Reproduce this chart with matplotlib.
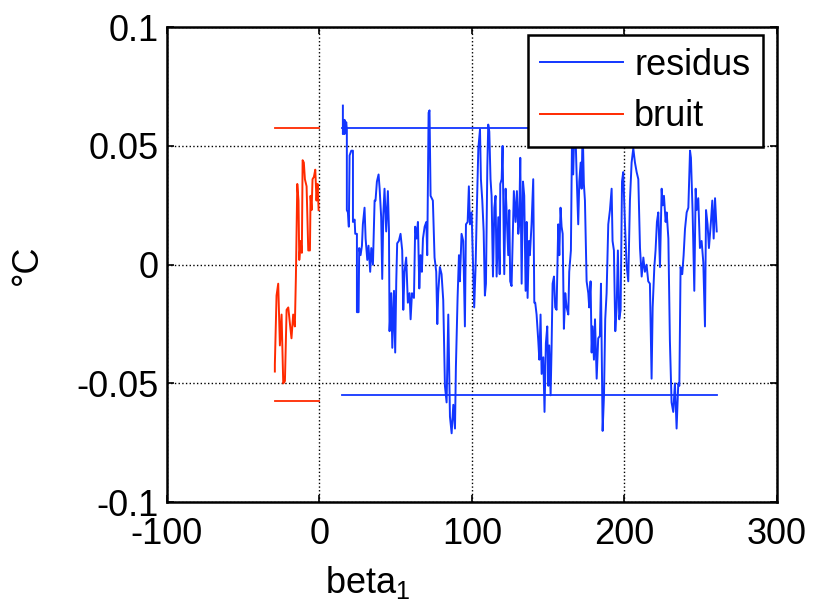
import matplotlib
matplotlib.use("Agg")
import matplotlib.pyplot as plt

# bruit (red) trace
bruit_x = [-29.2, -29.2, -28.1, -27.0, -25.9, -24.8, -23.7, -22.6, -21.5, -20.4,
           -19.3, -18.3, -17.2, -16.1, -15.4, -14.5, -13.7, -13.2, -12.3, -11.5,
           -11.0, -10.2, -9.5, -8.4, -7.3, -6.2, -5.8, -5.1, -4.5, -3.6,
           -2.7, -1.9, -1.2, -0.5]
bruit_y = [-0.045, -0.042, -0.013, -0.008, -0.034, -0.021, -0.050, -0.049, -0.019, -0.018,
           -0.025, -0.031, -0.021, -0.026, -0.005, 0.034, 0.027, 0.002, 0.010, 0.005,
           0.044, 0.043, 0.036, 0.033, 0.006, 0.006, 0.029, 0.023, 0.036, 0.037,
           0.040, 0.027, 0.034, 0.023]
bruit_lim_x = [-29.0, 0.0]
bruit_lim = 0.0575

# residus (blue) trace
residus_x = [15.4, 15.4, 16.5, 16.5, 17.6, 18.0, 18.0, 18.7, 19.3, 19.8, 20.9, 22.0, 22.0,
             23.1, 23.5, 24.6, 24.6, 25.7, 26.1, 27.0, 27.9, 28.5, 29.6, 30.3, 31.4,
             32.2, 33.3, 34.0, 35.1, 36.2, 36.8, 37.7, 38.8, 39.5, 40.5, 41.2, 41.9,
             42.7, 43.8, 44.9, 45.6, 46.0, 47.1, 47.8, 48.9, 49.7, 50.4, 51.0, 52.1,
             53.2, 54.3, 55.0, 55.8, 56.9, 58.0, 59.1, 59.8, 60.7, 62.0, 62.8, 63.7,
             64.6, 65.5, 66.3, 67.2, 67.9, 69.0, 70.1, 70.7, 71.6, 72.2, 72.9, 74.4,
             75.5, 76.6, 77.3,
             77.9, 79.0, 80.1, 81.2, 82.3, 83.4, 84.5, 85.6, 86.7, 87.8, 88.9, 89.5,
             90.6, 91.5, 92.1, 93.2, 94.3, 95.4, 96.1, 97.2, 98.0, 98.7, 99.8, 100.9,
             101.5, 102.4, 103.1, 104.2, 105.3, 105.9, 106.8, 107.7, 108.5, 109.2, 110.1,
             110.7, 111.4, 112.2, 112.9, 113.8, 114.7, 115.5, 116.2, 117.3, 118.2, 118.6,
             119.5, 120.1, 121.2, 122.1, 122.7, 123.8, 124.5, 125.1, 126.0, 126.7, 127.5,
             128.6, 129.5, 130.4, 131.0, 131.7, 132.6, 133.5, 134.3, 135.2, 135.9, 136.5,
             137.4, 138.0, 139.1, 140.2, 140.9,
             141.5, 142.4, 143.5, 144.2, 145.0, 145.7, 146.8, 147.6, 148.5, 149.4, 150.1,
             150.7, 151.6, 152.2, 152.9, 153.8, 154.6, 155.5, 156.6, 157.3, 158.1, 158.8,
             159.5, 160.3, 161.2, 162.1, 163.2, 163.8, 164.9, 165.8, 166.4, 167.5, 168.6,
             169.7, 170.4, 171.3, 171.9, 172.6, 173.4, 174.1, 175.2, 176.3, 176.9, 177.8,
             178.5, 179.1, 180.0, 180.7, 181.8, 182.8, 183.9, 184.6, 185.7, 186.6, 187.4,
             188.3, 189.4, 190.5, 191.6, 192.2, 193.1, 194.0, 194.9, 195.7, 196.6, 197.5,
             198.4, 199.2, 200.3, 201.4, 202.5,
             203.6, 204.7, 205.8, 206.9, 208.0, 209.1, 210.2, 211.3, 212.4, 213.4, 214.5,
             215.6, 216.7, 217.8, 218.5, 219.6, 220.4, 221.3, 222.2, 223.3, 224.4, 225.0,
             225.9, 227.0, 227.7, 228.8, 229.8, 230.9, 232.0, 233.1, 234.2, 235.3, 236.0,
             236.8, 237.9, 238.8, 239.7, 240.8, 241.9, 243.0, 243.6, 244.7, 245.8, 246.7,
             247.3, 248.4, 249.5, 250.6, 251.7, 252.8, 253.5, 254.5, 255.4, 256.7, 257.6,
             258.5, 259.4, 260.5]
residus_y = [0.067, 0.055, 0.061, 0.055, 0.060, 0.057, 0.023, 0.022, 0.016, 0.046, 0.048, 0.048, 0.018,
             0.019, 0.013, 0.013, -0.020, -0.020, 0.007, 0.004, 0.008, 0.017, 0.024, 0.011, 0.002,
             0.008, -0.003, 0.007, 0.000, 0.027, 0.027, 0.035, 0.038, 0.032, 0.020, -0.006, 0.021,
             0.032, 0.014, 0.031, 0.015, -0.028, -0.012, -0.035, -0.011, -0.037, -0.007, 0.009, 0.010,
             0.013, 0.006, -0.019, -0.003, 0.003, -0.016, -0.012, -0.023, -0.012, -0.014, 0.016, 0.011,
             0.018, -0.010, 0.004, -0.003, 0.011, 0.016, 0.018, 0.004, 0.064, 0.065, 0.029, 0.027,
             0.003, -0.003, -0.025,
             -0.012, -0.001, -0.004, -0.015, -0.051, -0.058, -0.021, -0.064, -0.071, -0.059, -0.069, -0.043,
             -0.014, 0.004, -0.007, 0.013, 0.010, -0.026, 0.017, 0.018, 0.033, 0.017, 0.022, -0.003,
             -0.018, -0.001, 0.020, 0.049, 0.057, 0.036, 0.027, 0.014, -0.013, -0.008, 0.041,
             0.059, 0.056, 0.036, 0.029, -0.005, 0.024, 0.029, -0.005, 0.020, -0.004, 0.034,
             0.036, 0.050, -0.004, 0.032, 0.023, 0.004, 0.023, -0.007, -0.009, 0.010, 0.031,
             0.018, 0.031, 0.013, 0.017, 0.045, -0.008, 0.035, 0.029, -0.011, 0.018, -0.014,
             0.010, 0.004, 0.017, 0.036, -0.016,
             -0.016, -0.021, -0.032, -0.040, -0.021, -0.046, -0.039, -0.062, -0.033, -0.026, -0.051,
             -0.034, -0.055, -0.036, -0.008, -0.005, -0.018, -0.019, 0.017, 0.004, 0.024, 0.016,
             0.013, -0.027, -0.012, -0.018, -0.021, -0.003, 0.006, 0.065, 0.038, 0.065, 0.039,
             0.017, 0.035, 0.043, 0.032, 0.058, 0.034, 0.027, -0.007, -0.012, -0.018, -0.007,
             -0.037, -0.026, -0.040, -0.023, -0.048, -0.031, -0.030, -0.008, -0.070, -0.055, -0.023,
             -0.012, 0.017, 0.023, 0.032, 0.010, 0.006, -0.028, -0.018, 0.006, -0.023, -0.019,
             0.035, 0.039, 0.018, 0.000, -0.007,
             0.027, 0.043, 0.049, 0.043, 0.039, 0.036, 0.007, -0.005, 0.003, -0.003, 0.000,
             -0.007, -0.008, -0.048, -0.018, -0.001, 0.006, 0.018, 0.022, -0.001, 0.032, 0.025,
             0.029, 0.018, 0.022, 0.011, -0.032, -0.058, -0.062, -0.050, -0.069, -0.050, -0.051,
             -0.001, -0.004, 0.004, 0.015, 0.022, 0.024, 0.048, 0.045, 0.022, -0.011, 0.032,
             0.023, 0.028, 0.007, 0.010, 0.001, -0.026, 0.023, 0.017, 0.007, 0.018, 0.027,
             0.011, 0.028, 0.014]
residus_lim_x = [15.0, 260.5]
residus_hi = 0.0575
residus_lo = -0.055

x_ticks = [-100, 0, 100, 200, 300]
y_ticks = [-0.1, -0.05, 0, 0.05, 0.1]
y_tick_labels = ["-0.1", "-0.05", "0", "0.05", "0.1"]

BLUE = "#1236ff"
RED = "#ff2a00"

plt.rcParams["font.family"] = ["Liberation Sans", "DejaVu Sans"]
plt.rcParams["mathtext.default"] = "regular"
plt.rcParams["axes.unicode_minus"] = False

fig = plt.figure(figsize=(8.14, 6.05), dpi=100)
ax = fig.add_axes([0.205, 0.170, 0.7495, 0.785])

ax.plot(residus_x, residus_y, color=BLUE, lw=1.4, label="residus")
ax.plot(bruit_x, bruit_y, color=RED, lw=1.4, label="bruit")
ax.plot(residus_lim_x, [residus_hi, residus_hi], color=BLUE, lw=1.3)
ax.plot(residus_lim_x, [residus_lo, residus_lo], color=BLUE, lw=1.3)
ax.plot(bruit_lim_x, [bruit_lim, bruit_lim], color=RED, lw=1.3)
ax.plot(bruit_lim_x, [-bruit_lim, -bruit_lim], color=RED, lw=1.3)

ax.set_xlim(-100, 300)
ax.set_ylim(-0.1, 0.1)
ax.set_xticks(x_ticks)
ax.set_yticks(y_ticks)
ax.set_yticklabels(y_tick_labels)
ax.tick_params(direction="in", top=True, right=True, labelsize=26, length=5, width=1.2)
ax.tick_params(axis="x", pad=11)
ax.tick_params(axis="y", pad=6)
ax.grid(True, color="black", linestyle=":", linewidth=1.0)
for s in ax.spines.values():
    s.set_linewidth(1.8)

ax.set_xlabel("beta$_1$", fontsize=26)
ax.xaxis.set_label_coords(0.33, -0.13)
ax.set_ylabel("°C", fontsize=26)
ax.yaxis.set_label_coords(-0.2, 0.5)

leg = ax.legend(loc="upper right", bbox_to_anchor=(0.977, 0.983), fontsize=26,
                fancybox=False, framealpha=1, edgecolor="black", handlelength=2.3,
                borderaxespad=0.0, handletextpad=0.3, borderpad=0.35, labelspacing=0.45)
leg.get_frame().set_linewidth(1.8)

fig.savefig("out.png", dpi=100)
